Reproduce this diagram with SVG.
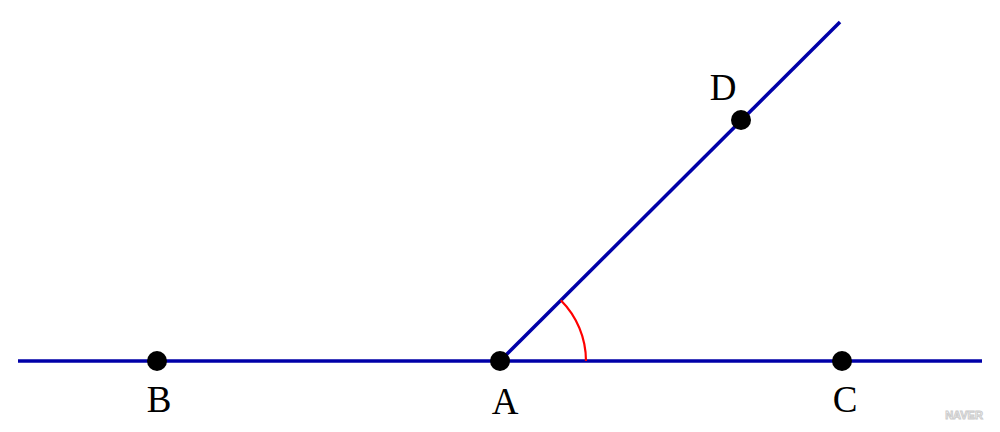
<svg xmlns="http://www.w3.org/2000/svg" width="1000" height="432" viewBox="0 0 1000 432">
<style>
.ln{stroke:#0000A8;stroke-width:3.5;fill:none}
.pt{fill:#000}
.lb{font-family:"Liberation Serif",serif;font-size:37px;fill:#000;text-anchor:middle}
.wm{font-family:"Liberation Sans",sans-serif;font-size:11px;font-weight:bold;fill:#fff;stroke:#ccc;stroke-width:1;text-anchor:middle}
</style>
<rect width="1000" height="432" fill="#fff"/>
<g id="connectors">
<line class="ln" x1="18" y1="361" x2="982" y2="361"/>
<line class="ln" x1="500" y1="361" x2="840" y2="22"/>
<path d="M586,361 A86,86 0 0 0 560.8,300.2" stroke="#f00" stroke-width="2.2" fill="none"/>
</g>
<g id="B"><circle class="pt" cx="157" cy="361" r="10"/><text class="lb" x="159" y="412">B</text></g>
<g id="A"><circle class="pt" cx="500" cy="361" r="10"/><text class="lb" x="505" y="414">A</text></g>
<g id="C"><circle class="pt" cx="842" cy="361" r="10"/><text class="lb" x="845" y="412">C</text></g>
<g id="D"><circle class="pt" cx="741" cy="120" r="10"/><text class="lb" x="723" y="100">D</text></g>
<text class="wm" x="964" y="419">NAVER</text>
</svg>
